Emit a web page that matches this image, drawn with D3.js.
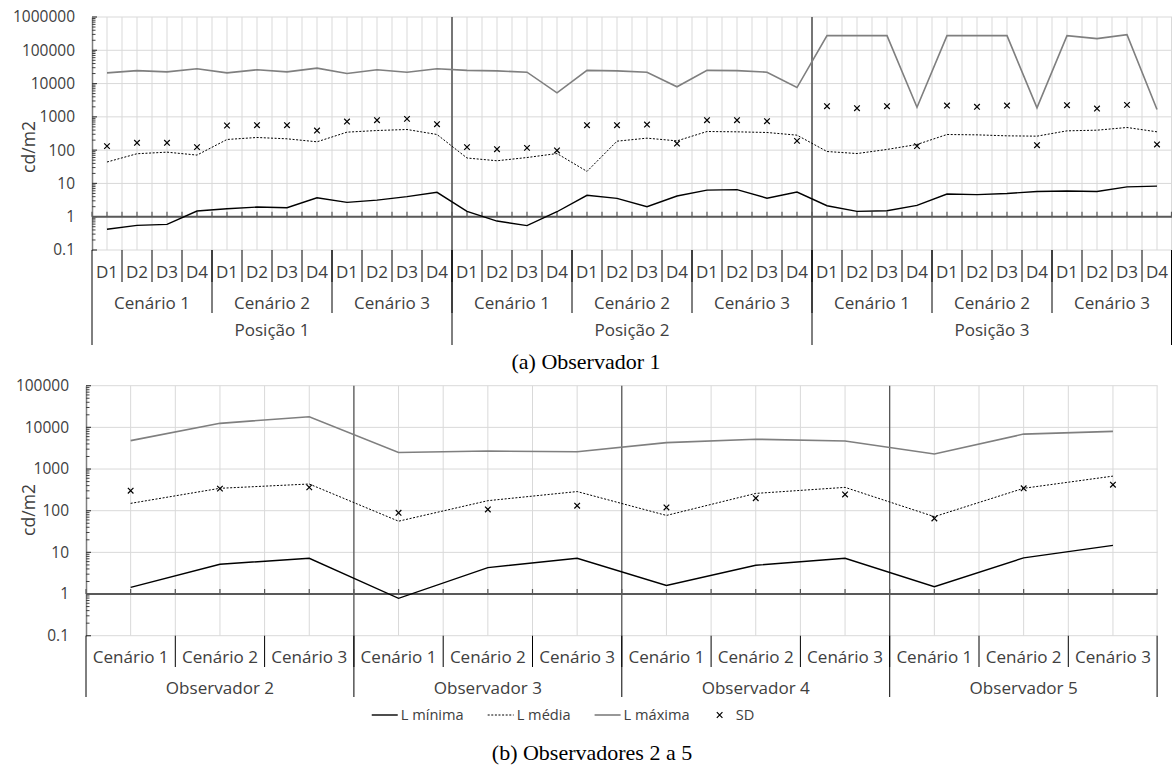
<!DOCTYPE html>
<html><head><meta charset="utf-8">
<script src="https://cdn.jsdelivr.net/npm/d3@7"></script>
<style>
body{margin:0;background:#fff;}
text{font-family:"Open Sans",sans-serif;}
</style></head>
<body><svg id="chart" width="1172" height="765"></svg>
<script>
// ---------- DATA ----------
const positions = ["Posição 1", "Posição 2", "Posição 3"];
const cenarios = ["Cenário 1", "Cenário 2", "Cenário 3"];
const dias = ["D1", "D2", "D3", "D4"];

// Observador 1: 3 positions x 3 scenarios x 4 days (36 points)
const obs1Min = [0.42,0.55,0.59,1.48, 1.74,1.95,1.86,3.7, 2.7,3.16,4.0,5.4,
                 1.45,0.74,0.54,1.41, 4.4,3.55,2.0,4.2, 6.3,6.5,3.6,5.5,
                 2.14,1.45,1.51,2.19, 4.8,4.6,5.0,5.75, 5.9,5.75,7.9,8.3];
const obs1Mean = [44,78,87,71, 209,240,219,178, 347,389,417,295,
                  58,48,60,79, 23,186,229,190, 363,355,339,282,
                  91,79,105,148, 295,288,269,263, 380,398,479,355];
const obs1Max = [21000,24500,22400,28000, 21000,26000,22400,29000, 20000,26000,22000,28000,
                 25000,24000,22000,5250, 25000,24000,22000,8000, 25000,24500,22000,7600,
                 275000,275000,275000,1950, 275000,275000,275000,1860, 275000,224000,295000,1660];
const obs1SD = [132,166,166,123, 550,562,562,389, 724,794,871,603,
                123,107,117,98, 562,562,589,158, 794,794,741,190,
                2090,1820,2090,132, 2190,2000,2190,141, 2240,1780,2290,148];

// Observadores 2 a 5: 4 observers x 3 scenarios
const observers = ["Observador 2", "Observador 3", "Observador 4", "Observador 5"];
const obsMin = [1.45,5.2,7.2, 0.79,4.3,7.2, 1.6,4.9,7.2, 1.5,7.4,14.7];
const obsMean = [150,345,437, 56,174,288, 77,260,363, 72,345,676];
const obsMax = [4800,12500,18000, 2500,2700,2600, 4300,5200,4700, 2300,6900,8000];
const obsSD = [302,339,363, 89,107,132, 120,200,246, 65,345,420];

const yTicksTop = [0.1, 1, 10, 100, 1000, 10000, 100000, 1000000];
const yTicksBottom = [0.1, 1, 10, 100, 1000, 10000, 100000];
const legendLabels = ["L mínima", "L média", "L máxima", "SD"];
const yTitle = "cd/m2";
const captions = ["(a) Observador 1", "(b) Observadores 2 a 5"];

// ---------- DRAW ----------
const svg = d3.select("#chart");
const TXT = "#404040";

// font sizes fitted to the widths measured on the reference
function fit(str, target){
  const t = svg.append("text").attr("font-size",100).text(str);
  const w = t.node().getComputedTextLength(); t.remove();
  return 100*target/w;
}
const FS_TICK = fit("1000000", 62);
const FS_CAT = fit("Cenário 1", 76);
const FS_TITLE = fit("cd/m2", 52);
const FS_LEG = fit("L mínima", 63);

function drawChart(o){
  const g = svg.append("g");
  const x = d3.scaleBand().domain(d3.range(o.n)).range([o.x0, o.x1]).padding(0);
  const y = d3.scaleLog().domain([o.ticks[0], o.ticks[o.ticks.length-1]]).range([o.yBot, o.yTop]);
  const bw = x.bandwidth();

  const vg = [];
  for(let i=0;i<o.n;i++){ vg.push(x(i)+bw/2); if(i>0) vg.push(x(i)); }
  vg.push(o.x1-0.5);
  g.selectAll(".vg").data(vg).join("line")
    .attr("x1",d=>d).attr("x2",d=>d).attr("y1",o.yTop).attr("y2",o.yBot)
    .attr("stroke","#d9d9d9").attr("stroke-width",1);
  g.selectAll(".hg").data(o.ticks).join("line")
    .attr("x1",o.x0).attr("x2",o.x1).attr("y1",d=>y(d)).attr("y2",d=>y(d))
    .attr("stroke","#d9d9d9").attr("stroke-width",1);

  const topLevel = o.levels[o.levels.length-1];
  const grpN = o.n / topLevel.labels.length;
  for(let k=1;k<topLevel.labels.length;k++){
    g.append("line").attr("x1",x(k*grpN)).attr("x2",x(k*grpN))
      .attr("y1",o.yTop).attr("y2",o.yBot)
      .attr("stroke",o.sepColor).attr("stroke-width",o.sepWidth);
  }

  const yAxis = d3.axisRight(y).tickValues(o.ticks).tickSize(0).tickFormat("");
  const ya = g.append("g").attr("transform",`translate(${o.x0},0)`).call(yAxis);
  ya.select(".domain").attr("stroke","#7f7f7f").attr("stroke-width",1.5);
  const minor = [];
  for(let k=0;k<o.ticks.length-1;k++) for(let m=2;m<=9;m++) minor.push(o.ticks[k]*m);
  g.selectAll(".mt").data(minor).join("line")
    .attr("x1",o.x0).attr("x2",o.x0+3.5).attr("y1",d=>y(d)).attr("y2",d=>y(d))
    .attr("stroke","#404040").attr("stroke-width",1);
  g.selectAll(".Mt").data(o.ticks).join("line")
    .attr("x1",o.x0).attr("x2",o.x0+5).attr("y1",d=>y(d)).attr("y2",d=>y(d))
    .attr("stroke","#404040").attr("stroke-width",1.2);
  g.selectAll(".yl").data(o.ticks).join("text")
    .attr("x",o.x0-17).attr("y",d=>y(d)).attr("dy","0.35em")
    .attr("text-anchor","end").attr("font-size",FS_TICK).attr("fill",TXT)
    .text(d=> d<1 ? d3.format(".1f")(d) : d3.format("d")(d));
  g.append("text").attr("transform",`translate(${o.titleX},${o.titleY}) rotate(-90)`)
    .attr("text-anchor","middle").attr("dy","0.35em")
    .attr("font-size",FS_TITLE).attr("fill",TXT).text(yTitle);

  const y1 = y(1);
  const xt = [];
  for(let i=0;i<o.n;i++){ xt.push(x(i)); xt.push(x(i)+bw/2); }
  xt.push(o.x1-0.5);
  g.selectAll(".xt").data(xt).join("line")
    .attr("x1",d=>d).attr("x2",d=>d).attr("y1",y1-5).attr("y2",y1)
    .attr("stroke","#595959").attr("stroke-width",1.2);
  g.append("line").attr("x1",o.x0).attr("x2",o.x1).attr("y1",y1).attr("y2",y1)
    .attr("stroke","#595959").attr("stroke-width",2);

  const lastBottom = o.levels[o.levels.length-1].sepBottom;
  g.append("line").attr("x1",o.x0).attr("x2",o.x0).attr("y1",o.yBot).attr("y2",lastBottom)
    .attr("stroke","#000").attr("stroke-width",1);
  g.append("line").attr("x1",o.x1-0.5).attr("x2",o.x1-0.5).attr("y1",o.yBot).attr("y2",lastBottom)
    .attr("stroke","#000").attr("stroke-width",1);
  o.levels.forEach(lv=>{
    const per = o.n / lv.count;
    for(let k=0;k<lv.count;k++){
      const lab = lv.labels[k % lv.labels.length];
      const cx = x(k*per) + per*bw/2;
      g.append("text").attr("x",cx).attr("y",lv.y).attr("dy","0.35em")
        .attr("text-anchor","middle").attr("font-size",FS_CAT).attr("fill",TXT).text(lab);
      if(k>0){
        g.append("line").attr("x1",x(k*per)).attr("x2",x(k*per))
          .attr("y1",o.yBot).attr("y2",lv.sepBottom)
          .attr("stroke","#000").attr("stroke-width",1);
      }
    }
  });

  const idx = d3.range(o.n);
  const line = arr => d3.line().x(i=>x(i)+bw/2).y(i=>y(arr[i]))(idx);
  g.append("path").attr("d",line(o.max)).attr("fill","none")
    .attr("stroke","#7f7f7f").attr("stroke-width",1.6);
  g.append("path").attr("d",line(o.mean)).attr("fill","none")
    .attr("stroke","#000").attr("stroke-width",1).attr("stroke-dasharray","2,1.6");
  g.append("path").attr("d",line(o.min)).attr("fill","none")
    .attr("stroke","#000").attr("stroke-width",1.4);
  const s = 2.8;
  g.selectAll(".sd").data(idx).join("path")
    .attr("d",i=>{const cx=x(i)+bw/2, cy=y(o.sd[i]);
      return `M${cx-s},${cy-s}L${cx+s},${cy+s}M${cx-s},${cy+s}L${cx+s},${cy-s}`;})
    .attr("stroke","#000").attr("stroke-width",1.2).attr("fill","none");
}

drawChart({
  n:36, x0:92, x1:1172, yTop:17, yBot:250, ticks:yTicksTop,
  min:obs1Min, mean:obs1Mean, max:obs1Max, sd:obs1SD,
  titleX:29, titleY:147, sepColor:"#595959", sepWidth:1.6,
  levels:[
    {labels:dias, count:36, y:272, sepBottom:282},
    {labels:cenarios, count:9, y:303, sepBottom:313},
    {labels:positions, count:3, y:330, sepBottom:345}
  ]
});
drawChart({
  n:12, x0:86, x1:1157.6, yTop:385.7, yBot:635.7, ticks:yTicksBottom,
  min:obsMin, mean:obsMean, max:obsMax, sd:obsSD,
  titleX:29, titleY:510, sepColor:"#404040", sepWidth:1.1,
  levels:[
    {labels:cenarios, count:12, y:657, sepBottom:667},
    {labels:observers, count:4, y:688, sepBottom:697}
  ]
});

svg.append("text").attr("x",586).attr("y",361).attr("dy","0.35em").attr("text-anchor","middle")
  .style("font-family","'Liberation Serif','Times New Roman',serif").attr("font-size",22).attr("fill","#000")
  .text(captions[0]);
svg.append("text").attr("x",592).attr("y",752).attr("dy","0.35em").attr("text-anchor","middle")
  .style("font-family","'Liberation Serif','Times New Roman',serif").attr("font-size",22).attr("fill","#000")
  .text(captions[1]);

const lg = svg.append("g");
let lx = 0;
const types = ["min","mean","max","sd"];
types.forEach((t,i)=>{
  const item = lg.append("g").attr("transform",`translate(${lx},0)`);
  let tx;
  if(t==="sd"){
    const s=2.8, cx=6;
    item.append("path").attr("d",`M${cx-s},${-s}L${cx+s},${s}M${cx-s},${s}L${cx+s},${-s}`)
      .attr("stroke","#000").attr("stroke-width",1.2);
    tx = 22;
  } else {
    const ln = item.append("line").attr("x1",0).attr("x2",26).attr("y1",0).attr("y2",0);
    if(t==="min") ln.attr("stroke","#000").attr("stroke-width",1.4);
    if(t==="mean") ln.attr("stroke","#000").attr("stroke-width",1).attr("stroke-dasharray","2,1.6");
    if(t==="max") ln.attr("stroke","#7f7f7f").attr("stroke-width",1.6);
    tx = 29;
  }
  const tt = item.append("text").attr("x",tx).attr("dy","0.35em").attr("font-size",FS_LEG)
    .attr("fill",TXT).text(legendLabels[i]);
  lx += tx + tt.node().getComputedTextLength() + 24;
});
const lw = lx - 24;
lg.attr("transform",`translate(${563 - lw/2},715)`);
</script></body></html>
